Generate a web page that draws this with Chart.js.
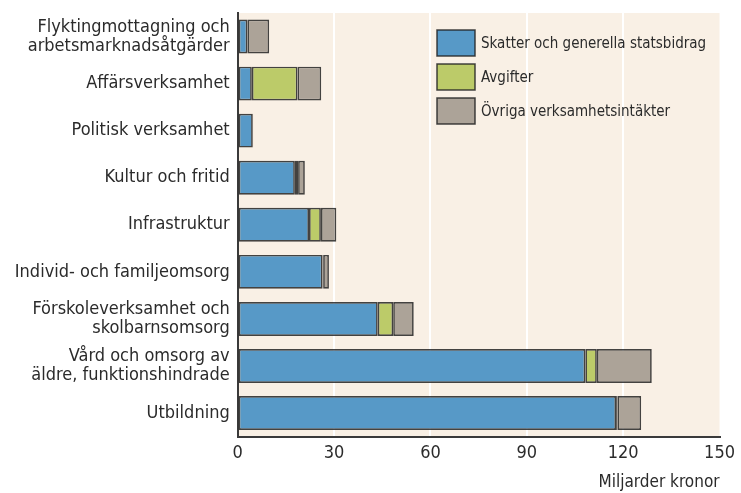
<!DOCTYPE html>
<html>
<head>
<meta charset="utf-8">
<script src="https://cdn.jsdelivr.net/npm/chart.js@4.4.0/dist/chart.umd.min.js"></script>
<style>
  html, body { margin: 0; padding: 0; background: #fff; }
  #wrap { width: 741px; height: 493px; }
</style>
</head>
<body>
<div id="wrap"><canvas id="chart"></canvas></div>
<script>
/* Kommunernas kostnader per verksamhet, miljarder kronor */
const categories = [
    ['Flyktingmottagning och', 'arbetsmarknadsåtgärder'],
    'Affärsverksamhet',
    'Politisk verksamhet',
    'Kultur och fritid',
    'Infrastruktur',
    'Individ- och familjeomsorg',
    ['Förskoleverksamhet och', 'skolbarnsomsorg'],
    ['Vård och omsorg av', 'äldre, funktionshindrade'],
    'Utbildning'
];
const skatter  = [3.0, 4.4, 4.7, 17.8, 22.2, 26.4, 43.6, 108.2, 117.8];
const avgifter = [0.0, 14.2, 0.0, 1.0, 3.7, 0.2, 4.8, 3.6, 0.4];
const ovriga   = [6.8, 7.4, 0.1, 2.1, 4.8, 1.8, 6.4, 17.1, 7.4];
const xTicks   = [0, 30, 60, 90, 120, 150];

const FONT = '"DejaVu Sans Condensed", "Roboto", sans-serif';
const TEXT = '#2b2b2b';
const EDGE = 'rgba(35,35,35,0.85)';

/* beige plot background */
const plotBg = {
    id: 'plotBg',
    beforeDraw(chart) {
        const a = chart.chartArea, c = chart.ctx;
        c.save();
        c.fillStyle = '#f9f0e5';
        c.fillRect(a.left, a.top, a.right - a.left, a.bottom - a.top);
        c.restore();
    }
};

/* legend boxes in the upper right of the plot */
const boxLegend = {
    id: 'boxLegend',
    afterDraw(chart) {
        const c = chart.ctx;
        c.save();
        c.font = '15px ' + FONT;
        c.textBaseline = 'middle';
        chart.data.datasets.forEach((ds, i) => {
            const y = 30 + i * 34;
            c.fillStyle = ds.backgroundColor;
            c.fillRect(437, y, 38, 26);
            c.strokeStyle = EDGE;
            c.lineWidth = 1.5;
            c.strokeRect(437, y, 38, 26);
            c.fillStyle = TEXT;
            c.fillText(ds.label, 481, y + 14);
        });
        c.restore();
    }
};

const mk = (label, data, color) => ({
    label, data,
    backgroundColor: color,
    borderColor: EDGE,
    borderWidth: 1.7,
    borderSkipped: false,
    barPercentage: 0.72,
    categoryPercentage: 1
});

new Chart(document.getElementById('chart').getContext('2d'), {
    type: 'bar',
    data: {
        labels: categories,
        datasets: [
            mk('Skatter och generella statsbidrag', skatter, '#5799c7'),
            mk('Avgifter', avgifter, '#bccb69'),
            mk('Övriga verksamhetsintäkter', ovriga, '#aca398')
        ]
    },
    options: {
        indexAxis: 'y',
        responsive: true,
        maintainAspectRatio: false,
        animation: false,
        layout: { padding: { top: 13, right: 19, left: 0, bottom: 0 } },
        plugins: {
            legend: { display: false },
            tooltip: { enabled: false }
        },
        scales: {
            x: {
                stacked: true,
                min: 0, max: 150,
                afterBuildTicks: s => { s.ticks = xTicks.map(v => ({ value: v })); },
                afterFit: s => { s.height = 56.4; },
                grid: {
                    color: ctx => (ctx.tick && (ctx.tick.value === 0 || ctx.tick.value === 150)) ? 'rgba(0,0,0,0)' : '#ffffff',
                    lineWidth: 2,
                    drawTicks: false
                },
                border: { color: '#3a3a3a', width: 2 },
                ticks: { color: TEXT, padding: 6, font: { family: FONT, size: 18 } },
                title: {
                    display: true, text: 'Miljarder kronor', align: 'end',
                    color: TEXT, padding: { top: 3, bottom: 0 },
                    font: { family: FONT, size: 17 }
                }
            },
            y: {
                stacked: true,
                afterFit: s => { s.width = 237.7; s.paddingTop = 0; s.paddingBottom = 0; },
                grid: { display: false, drawTicks: false },
                border: { color: '#3a3a3a', width: 2 },
                ticks: { color: TEXT, padding: 8, font: { family: FONT, size: 18, lineHeight: 1.05 } }
            }
        }
    },
    plugins: [plotBg, boxLegend]
});
</script>
</body>
</html>
